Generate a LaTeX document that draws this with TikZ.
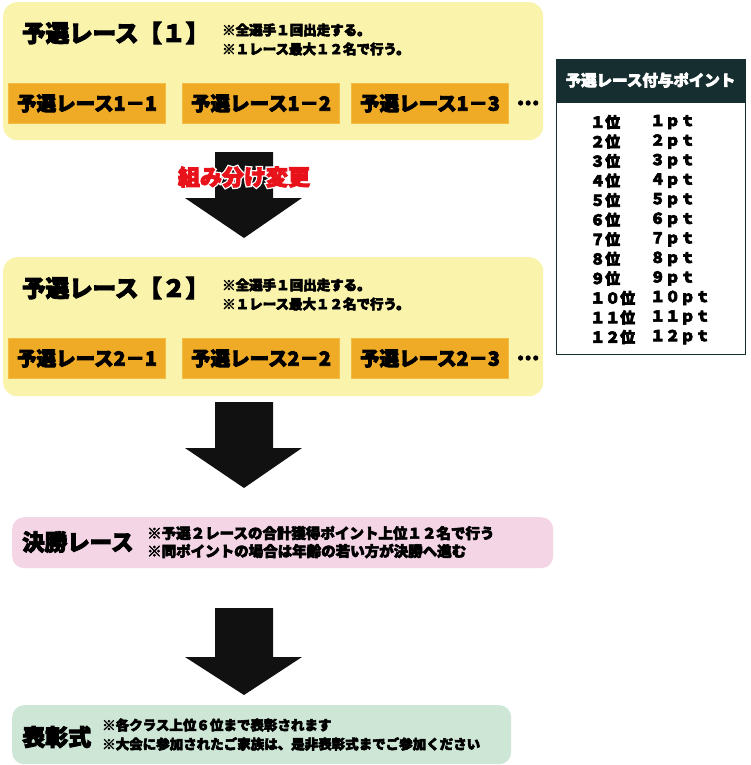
\documentclass[tikz,border=0pt]{standalone}
\usepackage{fontspec}
\setmainfont{Noto Sans CJK JP}[BoldFeatures={FakeBold=4}]
\newfontfamily\haloFont{Noto Sans CJK JP}[BoldFeatures={FakeBold=16}]
\definecolor{yellowbg}{HTML}{FAF3AB}
\definecolor{orangefill}{HTML}{EFAB26}
\definecolor{orangeline}{HTML}{F4BC45}
\definecolor{pinkbg}{HTML}{F3D5E5}
\definecolor{greenbg}{HTML}{CDE6D6}
\definecolor{headbg}{HTML}{172E30}
\definecolor{redtxt}{HTML}{E8121B}
\definecolor{arrowcol}{HTML}{111111}
\newcommand\fsz[1]{\fontsize{#1}{#1}\selectfont\bfseries}
\tikzset{
  ybox/.style={fill=yellowbg, rounded corners=14pt, anchor=north west, inner sep=0pt},
  obox/.style={fill=orangefill, draw=orangeline, line width=1pt, anchor=north west,
               minimum width=157pt, minimum height=40pt, inner sep=0pt, font=\fsz{19.5}},
  ttl/.style={anchor=west, inner sep=0pt, font=\fsz{23.5}},
  note/.style={anchor=west, inner sep=0pt, font=\fsz{13.5}},
  pnote/.style={anchor=west, inner sep=0pt, font=\fsz{14.5}},
  rowtxt/.style={anchor=west, inner sep=0pt, font=\fsz{15}},
  blockarrow/.style={fill=arrowcol},
}
\begin{document}
\begin{tikzpicture}[x=1pt,y=-1pt]
\useasboundingbox (0,0) rectangle (750,765);
\fill[white] (0,0) rectangle (750,765);

% ---- block 1
\node[ybox, minimum width=540pt, minimum height=138pt] (r1) at (3,2) {};
\node[ttl] (r1t) at (22,33) {予選レース【１】};
\node[note] (r1n1) at (222,30) {※全選手１回出走する。};
\node[note] (r1n2) at (222,49) {※１レース最大１２名で行う。};
\node[obox] (r11) at (8,83) {予選レース1－1};
\node[obox] (r12) at (182,83) {予選レース1－2};
\node[obox] (r13) at (351,83) {予選レース1－3};
\node[inner sep=0pt, font=\fsz{20}] (r1d) at (528,103) {…};

% ---- arrow 1
\fill[blockarrow] (215,152) -- (273,152) -- (273,198) -- (302,198) -- (244,238) -- (185,198) -- (215,198) -- cycle;
\node[inner sep=0pt, font={\fontsize{22}{22}\selectfont\haloFont\bfseries}, text=white] (chgh) at (244,177) {組み分け変更};
\node[inner sep=0pt, font=\fsz{22}, text=redtxt] (chg) at (244,177) {組み分け変更};

% ---- block 2
\node[ybox, minimum width=540pt, minimum height=139pt] (r2) at (3,257) {};
\node[ttl] (r2t) at (22,288) {予選レース【２】};
\node[note] (r2n1) at (222,285) {※全選手１回出走する。};
\node[note] (r2n2) at (222,304) {※１レース最大１２名で行う。};
\node[obox] (r21) at (8,338) {予選レース2－1};
\node[obox] (r22) at (182,338) {予選レース2－2};
\node[obox] (r23) at (351,338) {予選レース2－3};
\node[inner sep=0pt, font=\fsz{20}] (r2d) at (528,358) {…};

% ---- arrow 2
\fill[blockarrow] (215,402) -- (273,402) -- (273,448) -- (302,448) -- (244,488) -- (185,448) -- (215,448) -- cycle;

% ---- final
\node[ybox, fill=pinkbg, rounded corners=12pt, minimum width=541pt, minimum height=51pt] (fin) at (12,517) {};
\node[ttl, font=\fsz{22.5}] (fint) at (22,542) {決勝レース};
\node[pnote] (finn1) at (147,533) {※予選２レースの合計獲得ポイント上位１２名で行う};
\node[pnote] (finn2) at (147,551) {※同ポイントの場合は年齢の若い方が決勝へ進む};

% ---- arrow 3
\fill[blockarrow] (215,608) -- (273,608) -- (273,657) -- (302,657) -- (244,695) -- (185,657) -- (215,657) -- cycle;

% ---- ceremony
\node[ybox, fill=greenbg, rounded corners=12pt, minimum width=499pt, minimum height=59pt] (cer) at (12,705) {};
\node[ttl, font=\fsz{23}] (cert) at (22,737) {表彰式};
\node[note] (cern1) at (102,725) {※各クラス上位６位まで表彰されます};
\node[note] (cern2) at (102,744) {※大会に参加されたご家族は、是非表彰式までご参加ください};

% ---- points table
\fill[headbg] (556,59) rectangle (745,103);
\node[draw=headbg, line width=1.2pt, anchor=north west, minimum width=189pt, minimum height=295pt, inner sep=0pt] (tbl) at (556,59) {};
\node[inner sep=0pt, font=\fsz{15.5}, text=white] (tblh) at (650.5,80) {予選レース付与ポイント};
\foreach \i/\n in {1/１,2/２,3/３,4/４,5/５,6/６,7/７,8/８,9/９,10/１０,11/１１,12/１２} {
  \node[rowtxt] (rk\i) at (590,{122+(\i-1)*19.55}) {\n 位};
  \node[rowtxt] (pt\i) at (650,{122+(\i-1)*19.55}) {\n ｐｔ};
}
\end{tikzpicture}
\end{document}
